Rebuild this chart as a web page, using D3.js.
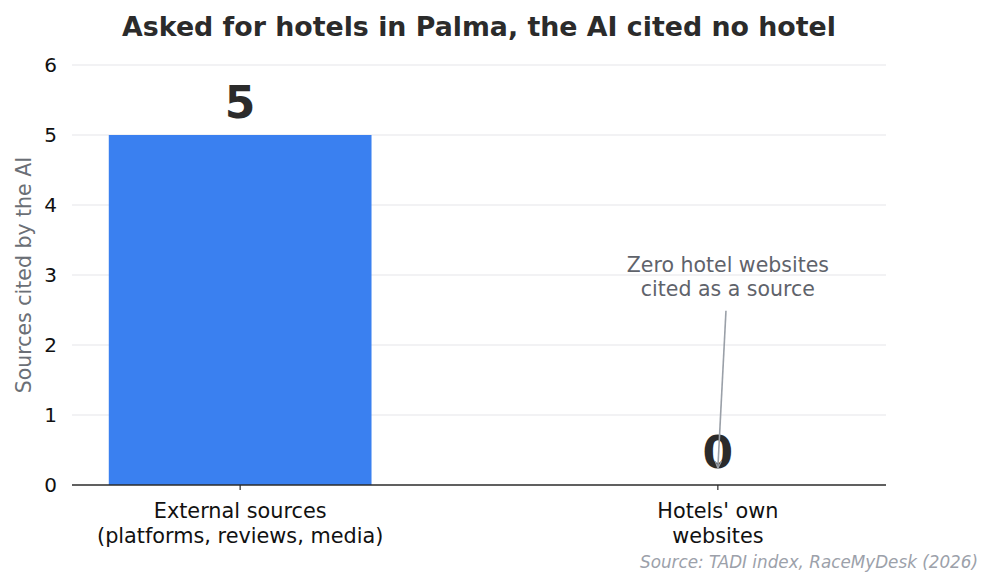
<!DOCTYPE html>
<html>
<head>
<meta charset="utf-8">
<script src="https://cdn.jsdelivr.net/npm/d3@7"></script>
<style>
  body { margin: 0; background: #fff; }
  text { font-family: "DejaVu Sans", sans-serif; }
</style>
</head>
<body>
<div id="chart"></div>
<script>
// chart data
const categories = ["External sources\n(platforms, reviews, media)", "Hotels' own\nwebsites"];
const values = [5, 0];
const yTicks = [0, 1, 2, 3, 4, 5, 6];

const settings = {
    width: 995,
    height: 587,
    left: 72,
    right: 886,
    top: 65,
    bottom: 485,
    barWidth: 0.55,
};

const x = d3.scaleLinear()
    .domain([-0.352, 1.352])
    .range([settings.left, settings.right]);

const y = d3.scaleLinear()
    .domain([0, 6])
    .range([settings.bottom, settings.top]);

const svg = d3.select("#chart").append("svg")
    .attr("width", settings.width)
    .attr("height", settings.height);

// title
svg.append("text")
    .attr("x", 479)
    .attr("y", 36)
    .attr("text-anchor", "middle")
    .attr("font-size", 26.8)
    .attr("font-weight", "bold")
    .attr("fill", "#2b2b2b")
    .text("Asked for hotels in Palma, the AI cited no hotel");

// grid + y labels
const yAxis = svg.append("g");
yAxis.selectAll("line.grid")
    .data(yTicks.filter(d => d > 0))
    .join("line")
    .attr("class", "grid")
    .attr("x1", settings.left)
    .attr("x2", settings.right)
    .attr("y1", d => y(d))
    .attr("y2", d => y(d))
    .attr("stroke", "#e6e6ea")
    .attr("stroke-width", 1.2);

yAxis.selectAll("text")
    .data(yTicks)
    .join("text")
    .attr("x", 57)
    .attr("y", d => y(d))
    .attr("dy", "0.36em")
    .attr("text-anchor", "end")
    .attr("font-size", 20)
    .attr("fill", "#111")
    .text(d => d);

svg.append("text")
    .attr("transform", `translate(31,${y(3)}) rotate(-90)`)
    .attr("text-anchor", "middle")
    .attr("font-size", 20.5)
    .attr("fill", "#6b6f76")
    .text("Sources cited by the AI");

// bars
svg.selectAll("rect.bar")
    .data(values)
    .join("rect")
    .attr("class", "bar")
    .attr("x", (d, i) => x(i - settings.barWidth / 2))
    .attr("width", x(settings.barWidth) - x(0))
    .attr("y", d => y(d))
    .attr("height", d => y(0) - y(d))
    .attr("fill", "#3a80f0");

// value labels
svg.selectAll("text.value")
    .data(values)
    .join("text")
    .attr("class", "value")
    .attr("x", (d, i) => x(i))
    .attr("y", d => y(d) - 17)
    .attr("text-anchor", "middle")
    .attr("font-size", 44)
    .attr("font-weight", "bold")
    .attr("fill", "#2b2b2b")
    .text(d => d);

// x axis
svg.append("line")
    .attr("x1", settings.left)
    .attr("x2", settings.right)
    .attr("y1", y(0))
    .attr("y2", y(0))
    .attr("stroke", "#2b2b2b")
    .attr("stroke-width", 1.5);

const xTicks = svg.selectAll("g.xtick")
    .data(categories)
    .join("g")
    .attr("class", "xtick")
    .attr("transform", (d, i) => `translate(${x(i)},${y(0)})`);

xTicks.append("line")
    .attr("y2", 5)
    .attr("stroke", "#2b2b2b")
    .attr("stroke-width", 1.2);

xTicks.append("text")
    .attr("text-anchor", "middle")
    .attr("font-size", 20.8)
    .attr("fill", "#111")
    .selectAll("tspan")
    .data(d => d.split("\n"))
    .join("tspan")
    .attr("x", 0)
    .attr("y", (d, i) => 33 + i * 24.5)
    .text(d => d);

// annotation
const note = svg.append("g");
note.append("text")
    .attr("text-anchor", "middle")
    .attr("font-size", 20.5)
    .attr("fill", "#5f636b")
    .selectAll("tspan")
    .data(["Zero hotel websites", "cited as a source"])
    .join("tspan")
    .attr("x", x(1.021))
    .attr("y", (d, i) => y(3.05) + i * 24.5)
    .text(d => d);

svg.append("defs").append("marker")
    .attr("id", "arrow")
    .attr("viewBox", "0 0 10 10")
    .attr("refX", 9)
    .attr("refY", 5)
    .attr("markerWidth", 5)
    .attr("markerHeight", 5)
    .attr("orient", "auto")
    .append("path")
    .attr("d", "M0,1 L9,5 L0,9")
    .attr("fill", "none")
    .attr("stroke", "#9aa0a8")
    .attr("stroke-width", 1.5);

note.append("line")
    .attr("x1", x(1.017))
    .attr("y1", y(2.49))
    .attr("x2", x(1.0))
    .attr("y2", y(0.24))
    .attr("stroke", "#9aa0a8")
    .attr("stroke-width", 1.6)
    .attr("marker-end", "url(#arrow)");

// source
svg.append("text")
    .attr("x", 978)
    .attr("y", 568)
    .attr("text-anchor", "end")
    .attr("font-size", 16.8)
    .attr("font-style", "italic")
    .attr("fill", "#9ca1aa")
    .text("Source: TADI index, RaceMyDesk (2026)");
</script>
</body>
</html>
